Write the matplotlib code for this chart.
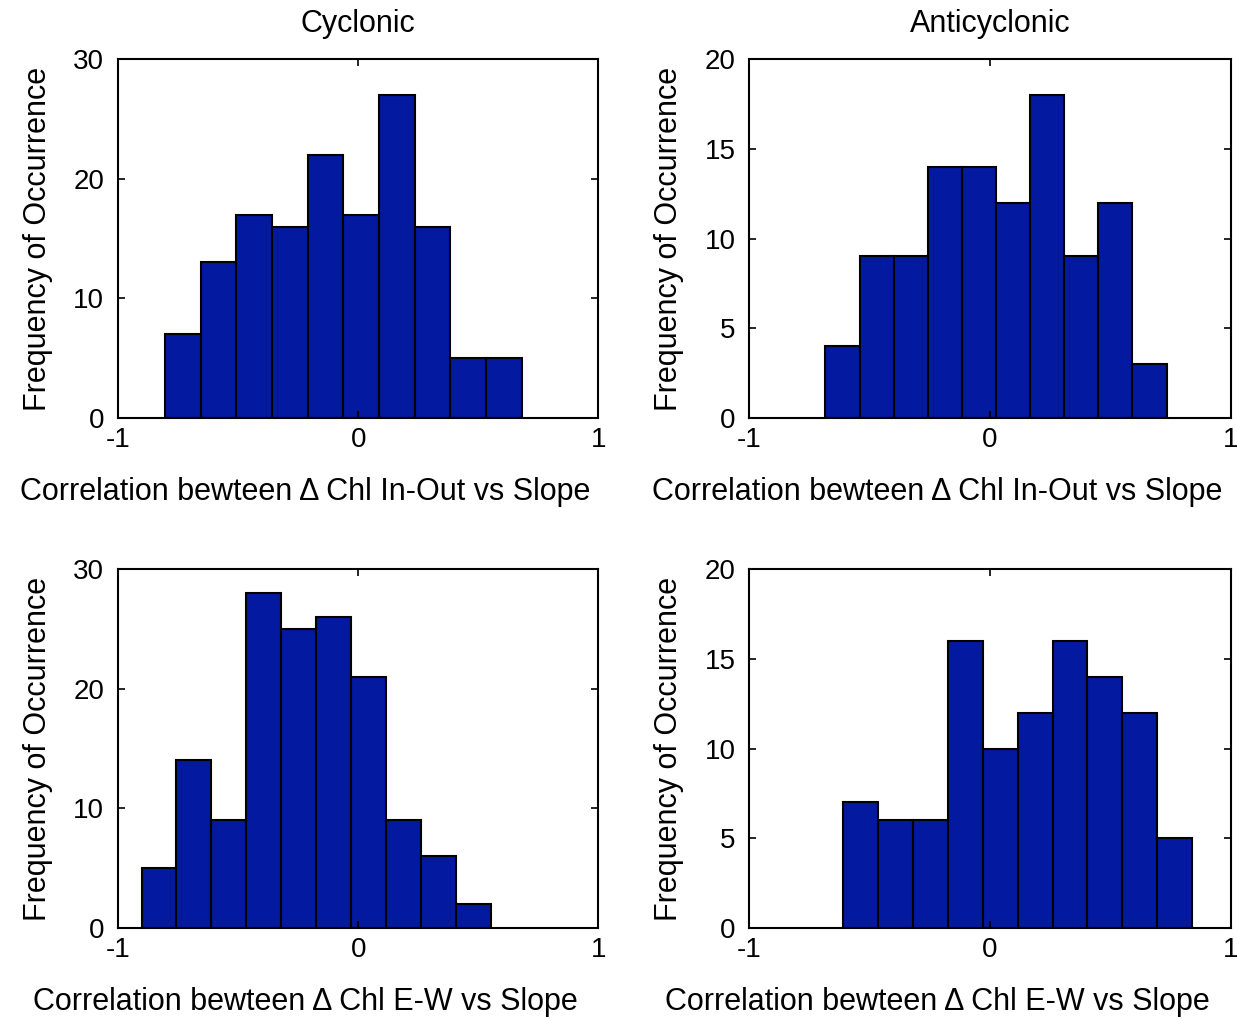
import numpy as np
import matplotlib
matplotlib.use("Agg")
import matplotlib.pyplot as plt

plt.rcParams['font.family'] = ['Liberation Sans', 'DejaVu Sans']

# counts per bin (10 bins each)
cyc_inout = [7, 13, 17, 16, 22, 17, 27, 16, 5, 5]
anti_inout = [4, 9, 9, 14, 14, 12, 18, 9, 12, 3]
cyc_ew = [5, 14, 9, 28, 25, 26, 21, 9, 6, 2]
anti_ew = [7, 6, 6, 16, 10, 12, 16, 14, 12, 5]

# range of the binned correlations (first and last bin edges)
cyc_inout_range = (-0.805, 0.681)
anti_inout_range = (-0.684, 0.734)
cyc_ew_range = (-0.903, 0.552)
anti_ew_range = (-0.609, 0.840)

titles = ["Cyclonic", "Anticyclonic"]
xlab_inout = "Correlation bewteen \u0394 Chl In-Out vs Slope"
xlab_ew = "Correlation bewteen \u0394 Chl E-W vs Slope"
ylab = "Frequency of Occurrence"

panels = [
    (cyc_inout, cyc_inout_range, 30, [0, 10, 20, 30], xlab_inout, titles[0]),
    (anti_inout, anti_inout_range, 20, [0, 5, 10, 15, 20], xlab_inout, titles[1]),
    (cyc_ew, cyc_ew_range, 30, [0, 10, 20, 30], xlab_ew, None),
    (anti_ew, anti_ew_range, 20, [0, 5, 10, 15, 20], xlab_ew, None),
]

positions = [
    [0.0956, 0.5897, 0.388, 0.352],
    [0.6058, 0.5897, 0.389, 0.352],
    [0.0956, 0.0887, 0.388, 0.352],
    [0.6058, 0.0887, 0.389, 0.352],
]

fig = plt.figure(figsize=(12.37, 10.18), dpi=100)

for (counts, rng, ymax, yt, xl, ttl), pos in zip(panels, positions):
    ax = fig.add_axes(pos)
    edges = np.linspace(rng[0], rng[1], len(counts) + 1)
    ax.bar(edges[:-1], counts, width=np.diff(edges), align='edge',
           color='#0219A0', edgecolor='black', linewidth=1.5)
    ax.set_xlim(-1, 1)
    ax.set_ylim(0, ymax)
    ax.set_xticks([-1, 0, 1])
    ax.set_xticklabels(["-1", "0", "1"])
    ax.set_yticks(yt)
    ax.tick_params(direction='in', length=5, width=1.2, top=True, right=True,
                   labelsize=20)
    ax.tick_params(axis='x', pad=7)
    ax.tick_params(axis='y', pad=10)
    for s in ax.spines.values():
        s.set_linewidth(1.5)
    ax.set_xlabel(xl, fontsize=22)
    ax.xaxis.set_label_coords(0.39, -0.165)
    ax.set_ylabel(ylab, fontsize=22)
    ax.yaxis.set_label_coords(-0.135, 0.5)
    if ttl:
        ax.set_title(ttl, fontsize=22, pad=20)

fig.savefig("out.png", dpi=100)
